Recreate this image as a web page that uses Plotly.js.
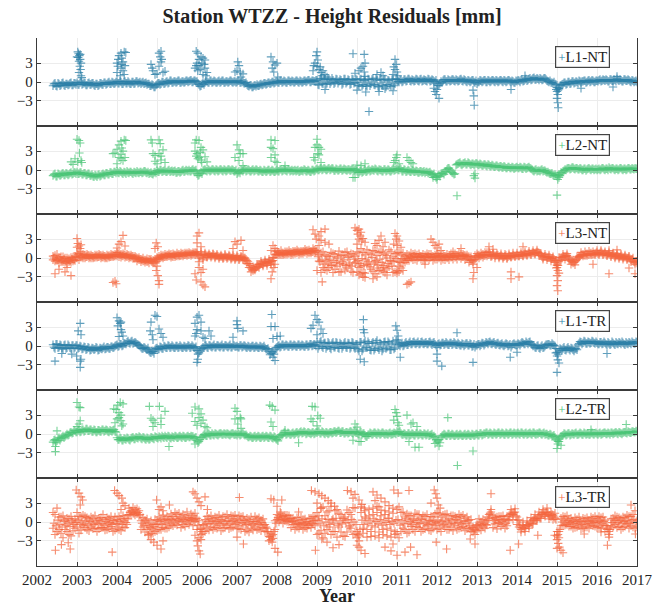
<!DOCTYPE html>
<html>
<head>
<meta charset="utf-8">
<script src="https://cdn.plot.ly/plotly-3.0.1.min.js"></script>
<style>html,body{margin:0;padding:0;background:#fff;}#chart{width:664px;height:606px;}</style>
</head>
<body>
<div id="chart"></div>
<script>
// ---- Data (mm). Dense band: interleaved regular sampling grids; plus explicit scattered points ----
const bandStart = 2002.4;     // grid A: 2002.40, 2002.45, ... 2017.00
const bandStartB = 2002.425;  // grid B: 2002.425, 2002.475, ... 2016.975
const bandStep = 0.05;
const seriesNames = ['L1-NT', 'L2-NT', 'L3-NT', 'L1-TR', 'L2-TR', 'L3-TR'];
const yearTicks = [2002,2003,2004,2005,2006,2007,2008,2009,2010,2011,2012,2013,2014,2015,2016,2017];
const yTicks = [-3, 0, 3];

const l1ntBand = [
-0.6,-0.2,-0.7,-0.3,-0.5,-0.1,-0.6,-0.3,-0.4,-0.1,-0.5,-0.2,
-0.1,-0.4,0.0,-0.3,-0.2,-0.5,-0.1,-0.4,-0.2,-0.6,-0.3,-0.5,-0.2,-0.4,-0.1,-0.3,0.0,-0.3,-0.1,-0.2,
0.1,-0.2,0.0,-0.3,0.1,-0.2,-0.1,-0.3,0.0,-0.2,0.1,-0.1,-0.3,0.0,-0.2,-0.4,-0.3,-0.6,-0.5,-0.8,
-0.4,-0.2,-0.3,0.0,-0.2,0.1,-0.1,0.2,-0.1,0.1,0.0,0.2,-0.1,0.1,0.0,0.2,0.1,0.3,0.0,0.2,
0.1,-0.4,-0.6,-0.2,-0.1,0.1,-0.1,0.2,0.0,0.1,-0.1,0.2,0.0,0.2,-0.1,0.1,0.0,0.2,-0.1,0.1,
0.0,0.2,-0.1,0.0,-0.2,-0.4,-0.7,-0.5,-0.8,-0.5,-0.4,-0.6,-0.3,-0.4,-0.2,-0.3,-0.1,-0.2,0.0,-0.1,
0.1,-0.1,0.2,0.0,0.1,-0.1,0.2,0.0,0.1,0.0,0.2,-0.1,0.1,0.0,0.2,0.1,0.3,0.0,0.2,0.1,
0.3,-0.5,0.6,-0.3,0.4,-0.2,0.5,0.0,0.3,-0.1,0.4,0.1,0.3,-0.2,0.5,0.0,0.3,-0.3,0.4,-0.1,
0.3,-0.6,0.5,-0.4,0.2,-0.7,0.4,-0.3,0.6,-0.5,0.3,-0.8,0.4,-0.6,0.5,-0.4,0.2,-0.7,0.5,-0.3,
0.4,0.0,0.3,0.1,0.4,0.2,0.5,0.1,0.3,0.2,0.4,0.1,0.5,0.2,0.3,0.1,0.4,0.2,0.3,0.0,
-0.2,-0.5,0.1,0.2,0.4,0.1,0.3,0.2,0.4,0.1,0.3,0.2,0.5,0.1,0.3,0.0,0.2,0.1,0.3,-0.1,
-0.3,0.0,0.2,0.1,0.3,0.0,0.2,0.1,0.3,0.0,0.2,0.1,0.3,0.0,0.2,0.1,0.3,0.0,0.1,-0.1,
0.1,0.2,0.3,0.1,0.4,0.2,0.5,0.3,0.6,0.4,0.6,0.3,0.5,0.4,0.6,0.2,0.0,-0.1,-0.2,-0.3,
-0.9,-1.1,-0.5,-0.3,-0.1,-0.3,0.0,-0.2,0.1,-0.1,0.0,0.2,-0.1,0.1,0.2,0.0,0.3,0.1,0.2,0.0,
0.2,0.3,0.1,0.4,0.2,0.3,0.1,0.4,0.2,0.3,0.5,0.2,0.3,0.1,0.4,0.2,0.3,0.0,0.2,0.1,
0.0];
const l1ntBandB = [
-0.3,-0.6,-0.2,-0.6,-0.2,-0.5,-0.3,-0.5,-0.2,-0.5,-0.2,-0.4,
-0.4,-0.1,-0.4,-0.1,-0.5,-0.2,-0.4,-0.2,-0.5,-0.3,-0.6,-0.2,-0.4,-0.1,-0.4,-0.1,-0.3,0.0,-0.3,0.0,
-0.2,0.1,-0.3,0.0,-0.2,0.1,-0.3,0.0,-0.3,0.1,-0.2,0.0,-0.1,-0.3,-0.1,-0.3,-0.6,-0.4,-0.8,-0.5,
-0.2,-0.4,0.0,-0.3,0.0,-0.2,0.2,-0.1,0.1,-0.1,0.2,-0.1,0.1,-0.1,0.2,0.0,0.2,0.0,0.2,0.0,
-0.2,-0.7,-0.3,-0.4,0.1,-0.1,0.2,-0.1,0.2,-0.1,0.1,-0.1,0.2,-0.1,0.1,-0.1,0.2,0.0,0.1,-0.1,
0.2,-0.1,0.1,-0.2,-0.1,-0.6,-0.5,-0.8,-0.6,-0.7,-0.6,-0.4,-0.5,-0.2,-0.4,-0.1,-0.3,0.0,-0.2,0.1,
-0.1,0.2,-0.1,0.2,-0.1,0.2,0.0,0.2,-0.1,0.2,0.0,0.2,-0.1,0.2,0.0,0.3,0.0,0.2,0.1,0.3,
-0.4,0.5,-0.2,0.6,-0.4,0.4,-0.3,0.6,-0.3,0.5,-0.2,0.4,-0.4,0.5,-0.2,0.4,-0.4,0.5,-0.2,0.5,
-0.5,0.4,-0.7,0.3,-0.5,0.5,-0.6,0.4,-0.4,0.6,-0.7,0.3,-0.5,0.4,-0.8,0.3,-0.5,0.4,-0.6,0.5,
0.1,0.4,0.0,0.4,0.1,0.5,0.2,0.4,0.1,0.5,0.2,0.4,0.1,0.4,0.2,0.5,0.1,0.4,0.1,0.3,
-0.6,-0.2,-0.1,0.4,0.1,0.4,0.1,0.4,0.2,0.4,0.1,0.4,0.2,0.4,0.1,0.3,0.0,0.3,0.0,0.2,
0.0,0.3,0.0,0.3,0.0,0.3,0.0,0.3,0.1,0.3,0.0,0.3,0.1,0.3,0.0,0.3,0.1,0.2,-0.1,0.2,
0.3,0.0,0.4,0.2,0.5,0.3,0.6,0.4,0.7,0.4,0.5,0.6,0.3,0.6,0.4,0.1,0.2,-0.1,0.0,-0.4,
-1.3,-0.6,-0.4,-0.1,-0.4,0.0,-0.3,0.1,-0.2,0.1,-0.2,0.1,0.1,0.2,-0.1,0.2,0.0,0.3,0.0,0.2,
0.1,0.4,0.2,0.3,0.4,0.1,0.4,0.2,0.4,0.1,0.3,0.4,0.1,0.4,0.2,0.4,0.1,0.3,0.0,0.2];

const l2ntBand = [
-0.9,-0.6,-1.0,-0.7,-0.8,-0.5,-0.8,-0.6,-0.7,-0.4,-0.6,-0.4,
-0.3,-0.6,-0.4,-0.7,-0.5,-0.8,-0.6,-0.9,-1.0,-0.8,-1.1,-0.7,-0.9,-0.6,-0.8,-0.5,-0.7,-0.4,-0.6,-0.3,
-0.2,-0.5,-0.3,-0.6,-0.4,-0.2,-0.5,-0.3,-0.6,-0.4,-0.2,-0.5,-0.3,-0.4,-0.2,-0.5,-0.6,-0.4,-0.7,-0.3,
-0.1,-0.3,0.0,-0.2,-0.1,-0.3,0.0,-0.2,-0.3,-0.1,-0.4,-0.2,-0.3,0.0,-0.2,-0.1,0.0,-0.2,0.1,-0.1,
-0.6,-0.8,-0.3,-0.1,0.1,-0.2,0.0,-0.1,0.1,-0.2,0.0,-0.1,0.1,-0.2,0.0,-0.1,0.1,-0.1,0.0,-0.2,
-0.6,-0.2,0.0,-0.2,0.1,-0.1,0.0,-0.2,0.1,-0.1,0.0,-0.2,-0.1,-0.3,-0.1,-0.2,0.0,-0.2,-0.1,-0.3,
0.0,-0.2,0.1,-0.1,0.0,-0.2,0.1,-0.1,-0.2,0.0,-0.1,-0.3,-0.1,-0.2,0.0,-0.2,-0.1,-0.3,0.0,-0.1,
0.2,0.0,0.3,0.1,0.2,0.0,0.3,0.1,0.2,-0.1,0.1,0.0,0.2,0.0,0.1,-0.1,0.1,0.0,0.2,0.0,
-0.2,-0.4,-0.1,-0.3,0.0,-0.2,0.1,-0.1,0.0,0.2,-0.1,0.1,0.0,-0.2,0.1,-0.1,0.0,-0.2,0.2,0.0,
0.2,0.0,0.1,-0.2,0.0,-0.2,-0.1,-0.3,-0.1,-0.3,-0.2,-0.4,-0.2,-0.3,-0.5,-0.3,-0.4,-0.6,-0.8,-1.0,
-1.1,-0.8,-0.6,-0.5,-0.3,0.1,0.3,-0.2,-0.5,-0.6,0.9,1.1,0.9,1.0,1.2,0.9,1.1,0.8,1.0,0.9,
1.0,0.8,0.9,0.7,0.9,0.6,0.8,0.6,0.7,0.5,0.7,0.4,0.6,0.4,0.5,0.3,0.5,0.3,0.4,0.3,
0.5,0.3,0.4,0.2,0.4,0.3,0.5,0.2,-0.1,0.0,-0.2,-0.1,0.0,-0.2,-0.1,-0.4,-0.5,-0.6,-0.8,-0.7,
-1.0,-0.7,-0.4,-0.2,0.1,0.2,0.3,0.2,0.4,0.1,0.3,0.1,0.2,0.0,0.2,0.1,0.3,0.0,0.2,0.1,
0.0,0.2,0.1,0.3,0.0,0.2,0.4,0.1,0.3,0.0,0.2,0.1,0.3,0.0,0.2,0.1,0.3,0.1,0.2,0.3,
0.2];
const l2ntBandB = [
-0.7,-1.0,-0.6,-0.9,-0.6,-0.8,-0.5,-0.8,-0.5,-0.7,-0.4,-0.6,
-0.6,-0.4,-0.7,-0.5,-0.8,-0.6,-0.9,-0.7,-1.1,-0.9,-0.8,-1.0,-0.7,-0.8,-0.5,-0.7,-0.4,-0.6,-0.3,-0.5,
-0.4,-0.2,-0.5,-0.3,-0.6,-0.4,-0.3,-0.5,-0.3,-0.5,-0.4,-0.3,-0.5,-0.2,-0.4,-0.3,-0.5,-0.6,-0.4,-0.5,
-0.3,0.0,-0.3,-0.1,-0.3,-0.1,-0.3,-0.1,-0.2,-0.4,-0.2,-0.4,-0.1,-0.3,0.0,-0.2,-0.2,0.0,-0.2,0.0,
-0.9,-0.5,-0.6,0.0,-0.1,0.1,-0.2,0.1,-0.1,0.1,-0.2,0.1,-0.1,0.1,-0.2,0.1,-0.1,0.1,-0.2,0.0,
-0.4,-0.5,-0.1,0.1,-0.2,0.1,-0.2,0.0,-0.2,0.1,-0.2,0.0,-0.3,0.0,-0.3,0.0,-0.3,0.0,-0.3,-0.1,
-0.2,0.1,-0.2,0.1,-0.1,0.1,-0.2,0.0,-0.1,-0.2,0.0,-0.2,-0.1,0.1,-0.2,0.0,-0.3,0.0,-0.2,0.1,
0.0,0.2,0.0,0.3,0.0,0.2,0.0,0.3,-0.1,0.2,-0.1,0.2,-0.1,0.2,0.0,0.1,-0.1,0.2,-0.1,0.1,
-0.4,-0.2,-0.4,-0.1,-0.3,0.0,-0.2,0.1,-0.1,0.1,-0.2,0.0,-0.2,0.1,-0.2,0.1,-0.2,0.0,-0.1,0.1,
0.0,0.3,-0.2,0.1,-0.3,0.0,-0.3,0.0,-0.3,-0.1,-0.4,-0.2,-0.4,-0.2,-0.3,-0.5,-0.3,-0.7,-0.6,-1.2,
-0.9,-1.0,-0.5,-0.7,-0.2,0.3,0.0,-0.4,-0.7,0.8,1.0,1.2,0.8,1.1,0.9,1.2,0.9,1.0,0.8,1.1,
0.8,1.0,0.7,0.9,0.7,0.9,0.6,0.8,0.5,0.7,0.5,0.6,0.4,0.6,0.3,0.5,0.3,0.5,0.2,0.4,
0.3,0.5,0.2,0.5,0.2,0.4,0.3,0.1,-0.2,0.1,-0.1,-0.2,0.1,-0.1,-0.3,-0.3,-0.6,-0.5,-0.9,-0.9,
-0.8,-0.9,-0.5,-0.1,0.0,0.3,0.1,0.4,0.2,0.3,0.1,0.3,0.0,0.2,-0.1,0.2,0.1,0.2,0.0,0.2,
0.1,0.0,0.3,0.1,0.2,0.0,0.2,0.3,0.1,0.2,0.0,0.3,0.1,0.2,0.0,0.3,0.1,0.3,0.1,0.2];

const l3ntBand = [
0.3,-0.5,0.6,-0.8,0.2,-0.6,0.0,-0.9,-0.1,-0.7,0.1,-0.4,
0.8,-0.3,1.0,0.0,0.5,0.2,0.4,0.0,0.3,0.1,0.5,0.2,0.4,0.1,0.3,0.0,0.4,0.2,0.5,0.3,
0.9,0.2,0.6,0.3,0.5,0.2,0.4,0.1,0.3,-0.1,0.0,-0.3,-0.2,-0.5,-0.3,-0.6,-0.2,-0.5,-0.4,-0.8,
-0.2,0.3,0.1,0.4,0.2,0.5,0.3,0.6,0.2,0.5,0.3,0.6,0.4,0.7,0.5,0.8,0.5,0.7,0.6,0.9,
0.7,0.0,1.0,-0.3,0.6,0.2,0.5,0.3,0.6,0.2,0.4,0.1,0.3,0.0,0.4,0.1,0.3,0.0,0.2,-0.1,
0.2,-0.2,0.3,-0.1,0.0,-0.4,-0.9,-1.6,-2.0,-1.7,-1.4,-1.0,-0.8,-1.1,-0.6,-0.9,-0.5,-0.8,-0.4,0.5,
0.6,0.9,0.5,0.8,0.6,1.0,0.7,0.9,0.6,1.1,0.8,1.0,0.7,1.1,0.9,1.2,0.8,1.1,1.0,1.3,
1.2,-0.5,0.8,-1.5,0.5,-2.0,0.2,-1.2,0.7,-1.8,0.0,-2.2,0.4,-1.0,0.9,-1.6,0.3,-2.1,0.6,-0.8,
1.0,-1.5,1.5,-2.3,0.5,-1.0,0.8,-1.8,1.2,-0.6,0.4,-2.0,1.0,-1.2,0.6,-1.7,1.3,-0.5,0.2,-2.2,
0.8,-1.3,0.5,-0.8,0.3,-0.4,0.4,0.0,0.6,-0.2,0.5,0.1,0.3,-0.3,0.4,0.0,0.6,0.1,0.3,-0.2,
0.7,0.0,0.4,-0.2,0.3,0.0,0.4,0.1,0.5,0.1,0.4,0.2,0.6,0.2,0.4,0.0,0.2,-0.4,-0.6,-0.2,
0.2,0.5,0.3,0.6,0.4,0.9,0.5,0.4,0.6,0.3,0.5,0.2,0.4,0.1,0.3,0.0,0.4,0.2,0.5,0.3,
0.5,0.3,0.6,0.4,0.7,0.5,0.8,0.6,0.9,0.7,1.0,0.8,0.4,0.0,0.3,0.1,0.2,-0.1,0.0,-0.4,
-1.0,-0.6,0.0,0.3,0.2,0.4,0.0,-0.5,-0.8,-0.6,-0.2,0.3,0.5,0.6,0.4,0.7,0.5,0.8,0.6,0.7,
0.9,0.5,1.0,0.6,0.8,0.4,0.7,0.3,0.6,0.2,0.5,0.1,0.4,0.0,0.3,-0.1,0.2,-0.3,-0.5,-0.7,
-0.8];
const l3ntBandB = [
0.0,-0.2,-0.3,-0.1,-0.4,-0.2,-0.5,-0.3,-0.4,-0.2,-0.3,0.2,
0.5,0.2,0.4,0.3,0.2,0.4,0.2,0.3,0.1,0.3,0.2,0.4,0.2,0.3,0.1,0.3,0.2,0.4,0.3,0.5,
0.6,0.5,0.4,0.5,0.3,0.4,0.2,0.3,0.0,0.1,-0.1,-0.2,-0.3,-0.4,-0.4,-0.5,-0.3,-0.6,-0.6,-0.5,
-0.1,0.0,0.2,0.2,0.3,0.4,0.4,0.3,0.5,0.4,0.5,0.4,0.6,0.5,0.6,0.6,0.7,0.6,0.7,0.8,
0.5,0.3,0.5,0.4,0.5,0.4,0.4,0.3,0.4,0.3,0.3,0.2,0.2,0.1,0.2,0.1,0.2,0.0,0.1,0.0,
0.1,0.0,0.1,0.0,-0.2,-0.6,-1.2,-1.8,-1.8,-1.6,-1.3,-1.1,-0.9,-0.8,-0.7,-0.7,-0.6,-0.5,0.0,0.6,
0.8,0.7,0.8,0.7,0.8,0.8,0.9,0.8,0.9,0.9,1.0,0.9,0.9,1.0,1.1,1.0,1.0,1.0,1.2,1.1,
0.2,-0.6,-0.3,-1.0,-0.5,-0.8,-0.2,-1.1,-0.4,-0.7,0.2,-0.9,-0.6,-0.3,-1.2,0.1,-0.8,-1.3,-0.2,-0.6,
-0.4,-0.9,-0.1,-1.2,-0.3,-0.6,-1.4,0.1,-0.8,-0.4,-1.1,-0.2,-0.7,-1.5,0.0,-0.9,-0.4,-1.3,-0.6,-0.1,
-0.5,-0.7,-0.1,-0.3,0.0,-0.1,0.2,0.1,0.3,0.2,0.1,0.3,0.2,0.1,0.2,0.3,0.1,0.2,0.1,0.3,
0.3,0.2,0.1,0.3,0.2,0.1,0.3,0.2,0.3,0.2,0.4,0.3,0.3,0.4,0.2,0.2,-0.2,-0.3,-0.3,0.1,
0.4,0.3,0.5,0.4,0.6,0.5,0.6,0.3,0.5,0.4,0.4,0.3,0.3,0.2,0.4,0.2,0.3,0.3,0.4,0.4,
0.4,0.5,0.5,0.6,0.6,0.7,0.7,0.8,0.8,0.9,0.9,0.6,0.2,0.2,0.2,0.1,0.1,-0.1,-0.2,-0.4,
-1.2,-0.3,0.1,0.3,0.3,0.2,-0.2,-0.6,-0.7,-0.4,0.0,0.3,0.5,0.5,0.6,0.6,0.7,0.6,0.7,0.8,
0.7,0.8,0.8,0.7,0.6,0.6,0.5,0.5,0.4,0.3,0.3,0.2,0.2,0.1,0.1,0.0,-0.1,-0.2,-0.6,-0.5];
const l3ntBandC = [
-0.3,0.4,-0.4,0.1,-0.6,0.2,-0.7,0.0,-0.6,0.1,-0.5,0.3,
0.0,0.7,0.1,0.6,0.0,0.6,0.0,0.5,0.0,0.5,0.1,0.6,0.0,0.5,0.0,0.5,0.1,0.6,0.2,0.6,
0.3,0.8,0.1,0.7,0.1,0.6,0.0,0.5,-0.1,0.3,-0.5,0.1,-0.6,0.0,-0.7,-0.1,-0.8,-0.2,-0.8,-0.2,
0.1,-0.2,0.5,0.0,0.6,0.2,0.7,0.1,0.7,0.2,0.8,0.3,0.8,0.3,0.8,0.4,0.9,0.4,0.9,0.5,
1.0,-0.6,0.6,0.0,0.8,0.1,0.7,0.1,0.7,0.0,0.6,-0.1,0.5,-0.1,0.6,-0.1,0.5,-0.2,0.4,-0.3,
0.4,-0.3,0.1,-0.3,-0.4,-0.9,-1.5,-2.2,-1.4,-1.9,-1.0,-1.5,-0.5,-1.3,-0.3,-1.2,-0.2,-1.1,0.1,1.0,
1.1,0.5,1.2,0.5,1.0,0.6,1.2,0.5,1.1,0.7,1.3,0.6,1.1,0.7,1.4,0.7,1.3,0.8,1.5,0.9,
-2.0,0.5,-2.3,1.0,-1.8,0.3,-1.5,0.9,-2.3,0.6,-1.3,1.1,-2.2,0.5,-1.9,1.0,-1.1,0.7,-2.3,0.3,
-2.2,0.8,-1.3,0.9,-2.4,1.3,-1.0,0.6,-2.1,1.1,-1.6,0.9,-1.9,0.8,-2.3,0.4,-1.4,1.0,-2.3,0.7,
-2.0,0.9,-1.6,0.8,-0.7,0.6,-0.4,0.8,-0.3,0.7,-0.4,0.7,-0.2,0.6,-0.4,0.7,-0.3,0.6,-0.4,0.5,
-0.2,0.7,-0.4,0.6,-0.3,0.6,-0.3,0.7,-0.2,0.7,-0.2,0.8,-0.1,0.6,-0.3,0.5,-0.7,0.2,-1.0,0.4,
0.7,0.0,0.8,0.1,0.9,0.3,1.0,0.2,0.8,0.0,0.7,0.0,0.7,-0.1,0.6,-0.1,0.7,0.1,0.8,0.2,
0.8,0.3,0.9,0.3,1.0,0.4,1.1,0.5,1.2,0.6,1.3,0.4,0.7,-0.2,0.6,-0.3,0.5,-0.5,0.2,-0.7,
-1.5,0.1,-0.4,0.6,-0.2,0.7,-0.4,-1.0,-0.3,-1.1,0.2,0.1,0.9,0.3,1.0,0.4,1.1,0.5,1.0,0.5,
1.2,0.7,1.2,0.5,1.0,0.4,0.9,0.2,0.8,0.0,0.7,-0.1,0.6,-0.2,0.5,-0.3,0.3,-0.6,0.0,-1.0,
-0.5];

const l1trBand = [
0.2,-0.4,0.3,-0.2,0.1,-0.5,0.2,-0.3,0.0,-0.4,0.1,-0.2,
0.1,-0.3,-0.1,-0.4,-0.2,-0.5,-0.3,-0.6,-0.4,-0.5,-0.3,-0.6,-0.4,-0.3,-0.5,-0.2,-0.4,-0.1,-0.3,0.0,
0.2,0.0,0.3,0.1,0.4,0.6,0.5,0.7,0.4,0.6,0.3,0.1,-0.2,-0.4,-0.3,-0.6,-0.8,-1.1,-0.9,-0.6,
-0.3,-0.5,-0.2,-0.4,-0.1,-0.3,0.0,-0.2,-0.1,-0.3,0.0,-0.2,-0.1,-0.3,-0.1,-0.2,0.0,-0.2,-0.1,-0.3,
-0.7,-1.1,-0.5,-0.2,0.0,-0.2,0.1,-0.1,0.0,-0.2,0.1,-0.1,0.0,-0.2,0.1,-0.1,0.0,-0.2,0.1,-0.1,
0.0,-0.2,0.1,-0.1,0.0,-0.3,-0.1,-0.2,0.0,-0.2,-0.1,-0.3,-0.1,-0.2,-0.3,-0.5,-0.8,-1.2,-1.0,-0.6,
-0.2,0.1,-0.1,0.2,0.0,0.1,-0.1,0.2,0.0,0.1,-0.1,0.2,0.0,0.1,-0.1,0.2,0.0,0.3,0.1,0.2,
0.6,0.0,0.8,-0.3,0.5,-0.1,0.4,-0.5,0.6,-0.2,0.5,-0.4,0.3,-0.1,0.6,-0.3,0.4,-0.2,0.5,-0.4,
0.3,-0.8,0.6,-0.5,0.8,-0.3,0.4,-0.7,0.6,-0.4,0.9,-0.6,0.3,-0.5,0.7,-0.2,0.5,-0.6,0.8,-0.3,
1.0,0.2,0.3,0.0,0.4,0.2,0.5,0.3,0.6,0.4,0.5,0.3,0.6,0.4,0.5,0.3,0.6,0.4,0.5,0.3,
-0.2,0.4,0.2,0.5,0.3,0.4,0.2,0.5,0.3,0.4,0.2,0.3,0.1,0.3,0.2,0.4,0.1,0.3,0.0,-0.2,
0.1,0.3,0.2,0.4,0.3,0.5,0.6,0.4,0.5,0.3,0.4,0.2,0.3,0.1,0.2,0.3,0.1,-0.2,0.3,0.2,
0.2,0.3,0.4,0.5,0.3,0.5,0.6,0.3,0.0,-0.2,0.0,-0.3,-0.1,-0.3,0.0,0.2,0.3,0.1,0.2,0.0,
-1.0,-0.8,-0.5,-0.4,-0.6,-0.4,-0.5,-0.3,-0.6,-0.5,-0.6,0.4,0.6,0.5,0.7,0.4,0.6,0.5,0.7,0.4,
0.5,0.3,0.6,0.4,0.5,0.2,0.4,0.3,0.5,0.2,0.4,0.6,0.3,0.5,0.2,0.4,0.6,0.3,0.5,0.4,
0.6];
const l1trBandB = [
-0.2,0.3,-0.3,0.2,-0.3,0.1,-0.4,0.2,-0.3,0.1,-0.4,0.1,
-0.4,0.0,-0.5,-0.1,-0.6,-0.2,-0.7,-0.3,-0.6,-0.2,-0.7,-0.3,-0.5,-0.1,-0.4,-0.2,-0.4,-0.1,-0.2,0.1,
-0.1,0.3,0.0,0.4,0.3,0.8,0.4,0.8,0.5,0.5,0.2,0.0,-0.4,-0.2,-0.5,-0.3,-1.0,-0.8,-1.2,-0.4,
-0.5,-0.1,-0.4,0.0,-0.3,0.1,-0.3,0.1,-0.3,0.0,-0.3,0.1,-0.3,0.0,-0.3,0.1,-0.3,0.1,-0.3,-0.1,
-1.3,-0.8,-0.4,-0.3,0.1,-0.3,0.1,-0.2,0.2,-0.2,0.1,-0.2,0.2,-0.2,0.1,-0.2,0.2,-0.2,0.1,-0.1,
-0.2,0.1,-0.2,0.1,-0.2,0.0,-0.3,0.0,-0.3,0.0,-0.3,0.0,-0.3,0.0,-0.5,-0.4,-1.4,-0.9,-1.3,-0.3,
0.0,-0.2,0.2,-0.1,0.2,-0.1,0.2,-0.1,0.2,-0.1,0.2,-0.1,0.2,-0.1,0.2,-0.1,0.3,0.0,0.3,0.0,
-0.4,0.6,-0.1,0.5,-0.4,0.6,-0.3,0.4,-0.2,0.6,-0.3,0.5,-0.4,0.4,-0.2,0.5,-0.4,0.6,-0.2,0.3,
-0.5,0.6,-0.8,0.5,-0.2,0.7,-0.6,0.4,-0.7,0.6,-0.3,0.5,-0.8,0.6,-0.4,0.7,-0.6,0.3,-0.5,0.8,
0.5,0.0,0.5,0.1,0.6,0.2,0.7,0.3,0.7,0.3,0.7,0.3,0.7,0.3,0.6,0.3,0.7,0.2,0.6,0.1,
0.3,0.1,0.5,0.2,0.6,0.2,0.5,0.2,0.6,0.2,0.5,0.1,0.4,0.0,0.4,0.1,0.4,-0.1,0.3,0.1,
0.3,0.0,0.5,0.1,0.6,0.3,0.7,0.3,0.6,0.2,0.5,0.1,0.4,0.0,0.4,0.0,0.3,0.1,0.4,0.1,
0.4,0.1,0.6,0.3,0.7,0.3,0.7,0.2,0.1,-0.3,0.1,-0.4,0.1,-0.2,0.2,0.3,0.1,0.4,0.1,-0.4,
-1.3,-0.4,-0.7,-0.2,-0.7,-0.2,-0.7,-0.4,-0.8,-0.4,0.2,0.7,0.3,0.8,0.4,0.7,0.4,0.8,0.5,0.7,
0.3,0.6,0.3,0.7,0.3,0.6,0.2,0.7,0.3,0.6,0.3,0.5,0.7,0.3,0.6,0.3,0.5,0.7,0.4,0.7];

const l2trBand = [
-1.3,-0.9,-1.1,-0.6,-0.7,-0.3,-0.4,0.0,-0.1,0.3,0.2,0.5,
0.3,0.6,0.4,0.7,0.5,0.8,0.5,0.7,0.4,0.6,0.3,0.6,0.4,0.7,0.5,0.6,0.3,0.5,0.6,0.4,
-0.6,-0.9,-0.7,-1.0,-0.8,-0.6,-0.9,-0.7,-0.5,-0.8,-0.6,-0.4,-0.7,-0.5,-0.8,-0.6,-0.9,-0.5,-0.7,-0.4,
-0.6,-0.4,-0.7,-0.5,-0.3,-0.6,-0.4,-0.7,-0.5,-0.3,-0.6,-0.4,-0.5,-0.3,-0.6,-0.4,-0.5,-0.3,-0.4,-0.6,
-1.0,-1.2,-0.6,-0.3,-0.1,-0.3,0.0,-0.2,-0.1,0.1,-0.1,0.0,0.1,-0.1,0.0,0.1,-0.1,0.0,0.1,-0.1,
-0.2,0.0,-0.1,0.1,-0.2,-0.3,-0.5,-0.4,-0.6,-0.3,-0.5,-0.4,-0.6,-0.3,-0.5,-0.4,-0.6,-0.4,-0.7,-0.5,
-0.9,-0.5,-0.1,0.0,0.2,0.0,0.1,-0.1,0.2,0.0,0.3,0.1,0.4,0.2,0.3,0.1,0.2,0.0,0.3,0.1,
0.2,0.4,0.1,0.3,0.0,0.2,0.1,0.3,0.2,0.4,0.3,0.5,0.2,0.4,0.1,0.3,0.2,0.4,0.1,0.3,
0.2,0.0,0.3,0.1,-0.2,-0.4,-0.1,0.1,0.0,0.2,-0.1,0.1,0.0,0.2,-0.1,0.0,0.1,-0.1,0.0,0.1,
0.4,0.2,0.1,-0.1,0.0,-0.2,0.1,-0.1,0.0,-0.2,0.1,-0.1,0.0,-0.2,0.0,-0.1,-0.3,-0.1,-0.4,-0.6,
-1.3,-0.9,-0.5,-0.2,-0.1,-0.3,0.0,-0.2,-0.1,-0.3,0.0,-0.2,-0.1,-0.3,0.0,-0.2,-0.1,-0.3,-0.1,-0.2,
0.0,-0.2,0.1,-0.1,0.0,0.2,0.0,0.1,-0.1,0.1,0.0,0.2,0.0,0.1,-0.1,0.1,0.0,0.2,0.0,0.1,
0.1,0.0,0.2,0.0,0.1,-0.1,0.1,0.0,0.2,0.0,0.1,0.2,0.0,0.1,-0.1,0.0,-0.2,-0.1,-0.3,-0.5,
-1.0,-0.8,-0.4,-0.2,0.0,-0.1,0.1,-0.1,0.0,0.1,-0.1,0.0,0.1,-0.1,0.1,0.0,-0.1,0.1,0.0,0.1,
0.0,0.1,-0.1,0.1,0.2,0.0,0.1,0.2,0.0,0.2,0.1,0.3,0.1,0.2,0.3,0.1,0.3,0.2,0.4,0.3,
0.4];
const l2trBandB = [
-1.0,-1.4,-0.8,-1.0,-0.5,-0.6,-0.2,-0.2,0.2,0.1,0.6,0.3,
0.6,0.3,0.7,0.4,0.8,0.5,0.7,0.4,0.7,0.3,0.6,0.4,0.7,0.4,0.7,0.4,0.6,0.4,0.7,0.3,
-0.9,-0.6,-1.0,-0.7,-0.9,-0.7,-1.0,-0.6,-0.8,-0.5,-0.7,-0.5,-0.8,-0.6,-0.9,-0.7,-0.8,-0.6,-0.8,-0.5,
-0.7,-0.5,-0.3,-0.6,-0.5,-0.3,-0.6,-0.4,-0.6,-0.4,-0.6,-0.3,-0.6,-0.4,-0.6,-0.3,-0.5,-0.4,-0.7,-0.5,
-1.4,-0.9,-0.5,-0.1,-0.3,0.1,-0.2,0.1,-0.2,0.0,-0.2,0.1,-0.1,0.1,-0.1,0.0,-0.2,0.1,-0.1,0.0,
0.1,-0.2,0.1,-0.1,-0.1,-0.5,-0.3,-0.6,-0.4,-0.6,-0.3,-0.6,-0.4,-0.6,-0.3,-0.6,-0.3,-0.6,-0.4,-0.8,
-1.1,-0.3,-0.2,0.2,-0.1,0.2,-0.1,0.1,-0.1,0.2,0.0,0.3,0.1,0.4,0.0,0.3,0.1,0.2,0.0,0.3,
0.4,0.1,0.4,0.1,0.3,0.0,0.3,0.1,0.4,0.2,0.5,0.2,0.4,0.1,0.3,0.1,0.4,0.2,0.4,0.2,
0.0,0.3,-0.1,0.1,-0.4,-0.1,0.2,-0.1,0.2,0.0,0.2,-0.1,0.2,0.0,0.1,-0.1,0.2,0.0,0.2,0.0,
0.2,0.4,-0.1,0.1,-0.2,0.1,-0.2,0.1,-0.2,0.1,-0.2,0.1,-0.2,0.1,-0.2,0.1,-0.2,0.0,-0.3,-0.9,
-1.1,-1.4,-0.3,0.0,-0.3,0.0,-0.3,0.0,-0.3,-0.1,-0.3,0.0,-0.3,-0.1,-0.3,0.0,-0.3,0.0,-0.3,0.0,
-0.2,0.1,-0.2,0.1,0.2,-0.1,0.2,-0.1,0.2,-0.1,0.2,-0.1,0.2,-0.1,0.2,-0.1,0.2,-0.1,0.2,-0.1,
0.2,-0.1,0.2,-0.1,0.2,0.0,0.2,-0.1,0.2,-0.1,0.0,0.2,-0.1,0.2,0.0,-0.2,0.0,-0.4,-0.2,-0.8,
-1.2,-0.6,-0.3,0.1,-0.2,0.1,-0.2,0.1,-0.1,0.2,-0.1,0.2,-0.1,0.2,-0.1,0.1,-0.1,0.2,-0.1,0.2,
-0.1,0.2,0.0,0.2,0.0,0.2,-0.1,0.2,0.1,0.3,0.0,0.2,0.0,0.3,0.2,0.4,0.2,0.4,0.3,0.5];

const l3trBand = [
1.5,-2.0,2.2,-1.2,0.8,-2.5,0.3,-1.5,0.5,-2.2,0.0,-1.0,
1.5,-1.8,0.8,-0.6,0.9,-1.2,0.5,-0.8,0.6,-1.0,0.3,-1.1,0.7,-0.9,0.4,-1.2,0.5,-0.7,0.2,-1.3,
0.4,-1.2,0.5,-0.8,0.6,-0.4,1.2,1.8,1.4,2.0,1.3,1.8,0.2,-0.8,0.3,-1.2,-0.2,-1.8,-0.4,-1.5,
0.3,-1.2,0.5,-0.9,0.4,-1.0,0.6,-0.5,0.9,-0.3,1.2,0.0,0.8,-0.4,1.0,-0.2,0.7,0.2,1.0,0.1,
0.6,-2.5,-1.0,-1.8,0.4,-1.0,0.6,-0.8,0.5,-0.9,0.7,-0.6,0.4,-1.0,0.8,-0.5,0.6,-0.9,0.9,-0.4,
0.5,-1.0,0.8,-0.6,0.2,-1.3,0.4,-1.0,0.1,-0.8,0.5,-1.1,0.3,-0.9,-0.4,-1.6,-2.3,-2.8,-2.0,-1.2,
0.4,1.0,0.3,0.9,0.2,1.1,0.0,0.6,-0.4,0.3,-0.8,0.2,-0.6,0.4,-0.9,0.1,-0.5,0.6,-0.3,0.8,
1.5,-1.8,2.2,-2.5,1.0,-1.2,1.8,-2.0,0.5,-1.5,2.0,-0.8,1.2,-2.2,0.8,-1.6,1.5,-1.0,2.3,-1.8,
-2.5,-3.0,1.5,-1.8,0.8,-1.2,2.0,-2.3,1.2,-0.8,2.5,-1.6,1.0,-2.0,1.8,-1.0,0.6,-2.4,1.4,-1.5,
2.0,-2.5,1.5,-1.0,0.8,-1.8,1.0,-0.7,0.5,-1.5,1.2,-0.9,0.6,-1.2,0.9,-0.6,0.3,-1.4,0.8,-0.5,
1.5,-1.0,0.8,-0.6,1.2,-1.2,0.5,-0.8,1.0,-0.5,0.7,-1.0,0.9,-0.7,0.6,-1.1,0.3,-1.5,-0.8,-2.0,
-0.4,-1.0,0.0,-0.8,0.2,-0.5,1.2,1.6,0.6,-0.3,0.8,-0.2,0.9,-0.4,0.5,-0.6,1.0,1.4,1.2,1.6,
0.8,-0.8,-1.2,-0.6,-1.0,-0.4,-0.6,0.0,0.3,0.6,0.5,1.0,1.2,1.5,1.3,1.6,1.0,0.8,1.1,0.6,
-1.5,-2.5,0.6,-0.5,0.8,-0.4,0.5,-0.7,0.2,-0.9,0.4,-0.6,0.1,-1.0,0.5,-0.8,0.3,-0.5,0.6,-0.7,
0.5,-0.8,0.7,-0.5,0.3,-1.2,-1.5,-0.6,0.6,-0.4,0.8,-0.7,0.5,-0.9,0.7,-0.3,0.9,-0.6,1.2,-1.0,
-0.8];
const l3trBandB = [
-0.2,-0.6,0.3,-0.4,-0.8,0.1,-0.5,-0.2,-0.7,0.2,-0.4,-0.1,
0.3,-0.4,0.0,-0.3,0.2,-0.5,0.1,-0.2,-0.4,0.0,-0.3,0.2,-0.2,-0.5,0.1,-0.3,-0.1,-0.4,0.2,-0.2,
-0.3,0.1,-0.4,0.2,-0.1,0.5,1.5,1.7,1.4,1.6,1.5,1.2,-0.2,-0.5,0.0,-0.6,-0.9,-1.0,-0.7,-0.4,
-0.3,0.1,-0.4,0.2,-0.2,0.3,0.0,0.4,0.2,0.5,0.3,0.6,0.1,0.4,0.3,0.5,0.2,0.6,0.4,0.5,
-0.5,-1.2,-1.5,-0.6,-0.3,0.1,-0.2,0.2,-0.3,0.1,0.0,-0.2,0.2,-0.3,0.1,0.2,-0.2,0.1,0.3,0.0,
-0.2,0.2,-0.1,0.3,-0.4,-0.3,0.0,-0.5,-0.2,0.1,-0.3,-0.4,-0.1,-0.5,-0.8,-1.5,-2.4,-2.2,-1.5,-0.2,
0.7,0.5,0.8,0.4,0.6,0.3,0.5,0.1,0.0,-0.3,-0.2,-0.4,-0.1,-0.3,-0.2,-0.5,0.0,-0.2,0.2,0.3,
0.2,-0.3,0.5,-0.6,0.0,0.4,-0.4,0.3,-0.2,0.6,-0.5,0.2,-0.3,0.5,-0.1,0.3,-0.6,0.4,0.0,-0.4,
-2.0,-1.2,0.3,-0.4,0.6,-0.2,0.2,-0.6,0.5,0.1,-0.3,0.4,-0.5,0.2,-0.1,0.6,-0.4,0.1,-0.2,0.3,
0.4,-0.5,0.2,-0.3,0.5,-0.2,0.1,-0.4,0.3,-0.1,0.2,-0.3,0.4,-0.2,0.0,-0.4,0.2,-0.3,0.1,-0.1,
0.3,-0.2,0.1,-0.4,0.3,0.0,-0.3,0.2,-0.2,0.4,-0.1,0.2,-0.3,0.1,-0.2,0.2,-0.6,-0.9,-1.3,-0.6,
-0.6,-0.3,-0.5,-0.2,-0.4,0.3,1.4,1.1,0.2,0.4,-0.1,0.3,0.1,0.4,-0.2,0.2,1.2,1.3,1.5,1.0,
0.3,-0.5,-0.9,-1.0,-0.7,-0.5,-0.2,-0.3,0.5,0.3,0.8,0.6,1.3,1.2,1.5,1.4,1.1,1.2,0.8,0.4,
-2.0,-1.2,0.0,0.3,-0.2,0.2,-0.1,0.1,-0.3,0.0,-0.2,0.2,-0.4,0.0,-0.3,0.1,-0.2,0.2,-0.1,0.1,
-0.1,0.2,-0.2,0.1,-0.6,-1.0,-1.2,-0.1,0.2,0.3,-0.1,0.2,-0.2,0.1,0.2,0.0,-0.2,0.3,0.4,0.0];
const l3trBandC = [
-1.0,1.2,-1.5,0.8,-1.8,1.0,-1.2,0.6,-2.0,0.9,-1.4,0.5,
-0.8,0.9,-1.3,1.1,-0.9,0.7,-1.4,0.8,-1.1,1.0,-1.5,0.6,-0.9,1.2,-1.3,0.7,-1.0,0.9,-1.5,0.8,
-1.0,0.9,-1.4,1.0,-0.9,1.1,2.2,1.2,2.3,1.1,2.1,1.0,-1.2,0.7,-1.6,0.5,-2.0,0.2,-1.8,0.4,
-1.4,0.8,-1.2,1.1,-1.0,0.9,-0.8,1.3,-0.6,1.5,-0.5,1.4,-0.9,1.2,-0.7,1.6,-0.4,1.3,-0.6,1.4,
-1.2,0.2,-2.0,-0.4,-1.5,0.9,-1.3,1.0,-1.2,0.8,-1.0,1.1,-1.4,0.9,-0.9,1.2,-1.1,1.0,-0.8,1.1,
-1.1,1.0,-1.2,0.9,-1.5,0.6,-1.6,0.8,-1.3,0.9,-1.2,0.7,-1.4,0.5,-1.5,-1.0,-3.0,-1.8,-2.6,0.2,
1.2,0.0,1.4,-0.2,1.1,0.1,1.0,-0.9,0.6,-1.2,0.7,-1.0,0.8,-1.2,0.5,-1.0,0.6,-0.9,0.9,-0.6,
-2.0,1.0,-1.4,2.4,-1.8,1.6,-0.8,2.5,-1.5,1.8,-2.4,1.4,-1.6,0.6,-2.3,1.9,-0.8,1.2,-2.0,2.2,
-1.5,-2.2,2.4,-1.0,1.8,-2.4,1.0,-1.5,2.2,-2.2,1.5,-2.5,1.9,-1.2,1.2,-2.2,1.6,-1.3,2.2,-2.0,
-1.8,2.4,-1.5,1.6,-1.2,1.3,-1.6,1.0,-1.2,1.4,-0.7,1.2,-1.5,1.0,-1.1,1.2,-1.3,0.9,-1.0,1.3,
-1.2,1.4,-1.5,1.1,-0.8,1.3,-1.2,1.0,-1.4,0.9,-1.2,1.2,-0.9,1.1,-1.4,0.8,-1.0,0.4,-1.6,-1.2,
-1.4,0.5,-1.3,0.4,-1.0,0.8,0.6,2.0,-0.9,0.7,-1.1,0.9,-0.7,1.0,-1.0,0.9,0.3,2.0,0.4,2.1,
-0.4,0.3,-1.6,0.0,-1.5,0.2,-1.0,0.7,-0.3,1.2,0.2,1.6,0.6,2.0,0.9,2.2,0.5,1.6,0.4,1.4,
-2.2,-1.5,-0.6,0.9,-0.5,1.0,-0.7,0.6,-1.0,0.7,-0.8,0.8,-1.1,0.6,-0.8,0.7,-1.0,0.8,-0.6,0.9,
-0.9,0.9,-1.0,0.8,-1.5,-0.6,-2.0,0.5,-0.8,1.0,-0.9,0.7,-1.2,0.8,-0.7,1.1,-1.0,0.9,-0.8,1.8,
0.2];

// scattered points [year, mm]
const l1ntOut = [[2003.02,4.8],[2003.04,4.5],[2003.06,4.2],[2003.03,3.9],[2003.08,3.6],[2003.05,3.3],[2003.1,3.0],[2003.07,2.5],[2003.09,2.0],[2003.05,1.5],[2003.1,1.0],[2003.12,0.7],[2003.0,4.0],[2003.08,4.4],
[2004.0,1.5],[2004.02,2.5],[2004.0,3.0],[2004.03,3.6],[2004.05,4.2],[2004.1,4.6],[2004.18,4.8],[2004.22,4.7],[2004.12,3.8],[2004.15,3.2],[2004.1,2.2],[2004.15,1.8],[2004.18,1.2],[2004.12,2.8],[2004.08,1.0],[2004.2,2.6],
[2004.85,2.8],[2004.9,1.8],[2004.95,1.2],[2005.05,4.6],[2005.1,4.9],[2005.08,4.0],[2005.12,3.6],[2005.1,3.2],[2005.05,2.5],[2005.15,1.5],[2005.2,1.7],[2005.0,1.3],[2004.88,2.2],
[2005.98,4.9],[2006.02,4.6],[2006.0,3.0],[2005.98,2.6],[2006.05,2.6],[2006.1,4.0],[2006.15,3.8],[2006.2,3.5],[2006.12,3.0],[2006.18,2.8],[2006.2,2.2],[2006.25,1.5],[2006.02,1.8],[2006.08,2.0],[2006.15,1.2],[2006.22,1.0],[2006.05,3.6],[2005.95,2.2],
[2007.02,3.2],[2007.05,2.6],[2007.0,1.8],[2006.95,1.6],[2007.08,1.6],[2007.15,1.3],[2007.1,0.8],
[2007.85,4.0],[2007.9,3.2],[2007.95,2.7],[2007.88,2.2],[2008.0,3.0],[2007.92,1.6],[2008.02,0.8],
[2009.0,4.8],[2008.98,4.2],[2009.02,3.5],[2008.95,3.0],[2009.0,2.5],[2009.05,2.0],[2009.1,1.5],[2008.9,1.8],[2009.12,1.0],[2009.08,2.4],[2009.15,1.8],[2009.2,1.2],[2009.25,0.8],[2008.92,2.6],[2009.2,-1.2],
[2009.9,4.5],[2010.18,4.4],[2010.2,3.0],[2010.15,2.5],[2010.1,2.2],[2010.18,1.6],[2010.05,1.8],[2009.95,1.4],[2010.2,0.9],[2010.3,-4.7],[2010.0,-1.3],[2010.22,-1.6],
[2010.5,1.2],[2010.6,1.5],[2010.65,1.0],[2010.55,-1.5],[2010.7,-1.1],
[2010.95,3.6],[2010.98,2.8],[2010.92,2.4],[2010.95,2.0],[2011.0,1.6],[2010.9,1.2],[2011.02,1.0],[2010.9,-1.4],
[2011.92,-1.0],[2011.95,-1.5],[2011.98,-2.0],[2012.05,-2.6],[2012.0,-1.2],
[2012.9,-1.3],[2012.92,-2.2],[2012.93,-3.7],[2013.85,-1.2],[2014.2,1.0],
[2015.0,-1.5],[2015.02,-2.0],[2015.0,-2.6],[2015.02,-3.3],[2015.03,-4.1],[2014.98,-1.2],[2015.05,-1.0],
[2015.6,-1.0],[2016.5,0.9],[2016.4,-0.8]];

const l2ntOut = [[2003.0,4.9],[2003.05,4.7],[2003.08,4.3],[2003.06,2.7],[2003.02,1.3],[2002.85,1.3],[2003.1,1.5],[2002.95,1.8],[2003.12,1.2],[2002.9,0.9],
[2004.0,3.3],[2004.05,4.0],[2004.1,4.6],[2004.18,4.8],[2004.22,4.7],[2003.95,2.7],[2004.1,2.5],[2004.15,3.0],[2004.1,1.8],[2004.15,1.5],[2004.0,1.0],[2004.12,3.5],[2004.2,2.0],[2003.9,2.6],[2004.05,2.0],
[2004.85,4.8],[2005.05,4.8],[2004.88,4.3],[2005.08,4.2],[2004.9,2.6],[2004.95,2.3],[2005.05,2.6],[2005.1,2.2],[2005.15,3.2],[2004.95,1.4],[2005.1,1.6],[2005.2,1.2],[2005.0,1.0],
[2005.98,4.8],[2006.05,4.7],[2005.95,4.3],[2006.1,3.6],[2006.15,3.2],[2005.95,3.0],[2006.0,2.6],[2005.98,2.2],[2006.05,2.0],[2006.1,1.6],[2006.12,1.2],[2006.2,2.1],[2006.25,1.3],[2006.08,2.8],[2006.02,1.8],
[2007.0,4.0],[2007.05,3.2],[2006.95,2.0],[2007.08,2.6],[2007.15,2.6],[2007.05,1.5],[2007.15,0.7],
[2007.85,4.8],[2007.95,4.7],[2007.85,3.6],[2007.9,3.4],[2007.95,2.4],[2007.85,2.0],[2007.95,1.4],[2008.0,1.2],[2008.2,0.7],
[2009.0,4.9],[2009.0,4.0],[2009.05,3.6],[2008.95,3.6],[2009.1,3.3],[2009.02,2.6],[2008.92,2.0],[2008.95,1.6],[2009.05,2.4],[2009.1,1.2],
[2010.0,0.8],[2010.1,0.7],[2010.2,1.0],[2009.9,-1.2],[2009.95,-1.2],
[2010.95,1.5],[2010.98,2.0],[2011.0,2.4],[2010.92,1.2],[2011.05,1.0],[2011.25,2.0],[2011.3,1.5],[2011.35,1.2],[2011.4,1.0],
[2011.9,-1.2],[2012.0,-1.5],[2012.5,-4.1],
[2012.95,-0.6],[2012.95,-1.3],[2012.92,-0.9],
[2015.0,-4.0],[2015.02,-1.5],[2015.05,-1.2]];

const l3ntOut = [[2002.45,-2.5],[2002.55,-1.8],[2002.7,-2.2],[2002.85,-2.8],[2002.75,-1.5],
[2003.0,3.1],[2003.02,2.3],[2003.05,1.9],[2003.1,2.1],[2003.08,1.5],[2003.0,1.7],
[2004.15,3.6],[2004.1,2.6],[2004.05,2.2],[2004.0,1.6],[2004.2,1.9],[2003.9,-3.9],[2003.95,-3.7],[2003.98,-4.1],
[2004.98,2.4],[2005.02,1.8],[2004.95,1.5],[2005.0,-1.3],[2004.98,-2.0],[2005.02,-2.8],[2005.05,-3.6],[2005.05,-4.2],
[2006.0,3.5],[2006.05,4.0],[2006.0,2.4],[2006.1,1.8],[2006.05,-1.5],[2005.95,-2.5],[2005.98,-3.5],[2006.1,-3.8],[2006.15,-4.3],[2006.2,-4.6],[2006.15,-1.8],[2006.1,-2.3],
[2006.95,2.6],[2007.0,2.2],[2007.1,2.8],[2006.9,1.5],[2007.15,1.2],
[2007.85,-3.3],[2007.88,-2.2],[2007.92,-1.5],[2007.95,-1.0],
[2007.9,2.0],[2007.95,1.5],[2007.85,1.2],
[2008.9,4.5],[2008.95,3.8],[2009.1,4.2],[2009.05,3.5],[2009.2,4.6],[2008.98,3.0],[2009.1,2.8],[2009.2,2.5],[2009.3,2.2],[2009.05,2.0],[2009.13,-3.8],
[2009.95,4.8],[2010.0,4.4],[2010.05,4.6],[2010.1,4.1],[2010.02,3.8],[2010.08,3.5],[2010.15,3.1],[2010.05,3.0],[2010.12,2.7],[2010.2,2.5],[2010.0,2.2],[2010.1,-2.5],[2010.15,-3.0],[2010.2,-3.1],[2010.05,-2.7],
[2010.45,2.3],[2010.5,2.0],[2010.6,3.5],[2010.55,2.8],[2010.7,2.5],[2010.65,1.8],[2010.4,-3.3],[2010.5,-3.0],[2010.45,-2.5],[2010.65,-2.1],[2010.75,-2.7],
[2010.95,3.9],[2011.0,3.5],[2010.98,3.0],[2011.05,2.7],[2010.92,2.2],[2011.0,2.0],[2011.1,1.7],[2011.15,-2.0],[2011.25,-4.2],[2011.3,-4.0],[2011.35,-3.8],[2011.0,-2.4],[2011.05,-2.2],
[2011.85,3.0],[2011.9,2.5],[2011.95,2.0],[2012.0,1.6],[2012.05,2.2],[2011.7,-1.0],[2012.1,1.2],
[2012.6,1.5],[2012.4,1.0],[2012.9,-3.3],[2012.92,-2.3],[2013.0,-1.5],[2013.3,1.8],[2013.4,1.4],
[2013.85,-2.2],[2013.85,-3.3],[2014.05,-3.0],[2014.15,1.8],
[2015.0,-1.2],[2015.02,-2.0],[2015.0,-2.8],[2015.02,-3.6],[2015.0,-4.4],[2015.02,-5.2],[2014.98,-1.6],[2015.05,-2.4],
[2015.9,-1.0],[2016.3,1.2],[2016.3,-2.5],[2016.5,1.3],[2016.8,-1.6],[2016.95,-2.5]];

const l1trOut = [[2002.45,-2.4],[2002.62,-1.2],[2002.87,-1.3],[2002.99,-1.6],[2003.08,-2.4],[2003.08,-3.4],[2003.1,-2.1],
[2003.08,3.6],[2003.03,2.4],[2003.1,1.8],
[2004.0,4.5],[2004.05,4.0],[2004.08,3.6],[2004.02,3.2],[2004.1,2.6],[2004.12,2.2],[2004.05,1.5],[2004.15,1.6],[2004.1,3.8],
[2004.85,3.8],[2004.83,2.4],[2004.88,1.8],[2004.95,4.9],[2005.0,4.7],[2005.05,2.7],[2005.1,2.0],[2005.15,1.4],[2004.9,1.0],
[2005.95,3.6],[2006.0,4.6],[2006.05,4.9],[2006.1,3.8],[2006.0,2.6],[2005.98,2.0],[2006.1,2.4],[2006.15,1.4],[2006.3,2.4],[2006.35,1.6],[2006.2,1.2],[2005.95,1.6],
[2006.0,-2.6],[2006.02,-2.1],
[2006.9,1.4],[2007.0,4.0],[2007.0,3.4],[2007.02,2.8],[2007.15,2.4],
[2007.87,5.0],[2007.85,3.1],[2007.95,3.1],[2008.0,1.5],[2007.9,1.2],[2008.08,1.6],
[2007.9,-1.8],[2007.95,-2.3],
[2008.85,2.8],[2008.9,3.3],[2008.95,4.9],[2009.0,4.2],[2009.05,3.8],[2009.1,2.7],[2009.15,2.0],[2009.0,1.8],
[2010.16,4.2],[2010.16,2.6],[2010.18,2.1],[2010.97,3.2],[2011.0,2.5],[2011.03,1.6],
[2010.08,-2.1],[2010.18,-2.5],[2011.08,-1.8],
[2012.0,-1.3],[2012.0,-2.4],[2012.12,-3.2],[2012.5,2.1],[2012.9,-2.6],
[2013.83,-1.8],[2014.0,-1.0],
[2014.97,-1.1],[2015.0,-1.6],[2015.02,-2.2],[2015.05,-2.7],[2015.0,-4.2],
[2016.25,-1.2]];

const l2trOut = [[2002.46,-2.8],[2002.46,-2.0],[2002.5,0.5],
[2003.0,5.0],[2003.05,4.3],[2003.08,4.2],[2003.08,2.1],[2003.0,1.2],[2003.05,1.6],
[2003.92,4.0],[2003.98,3.9],[2004.02,4.6],[2004.08,5.0],[2004.15,4.8],[2004.05,3.4],[2004.1,3.0],[2004.05,2.6],[2004.1,2.1],[2004.15,1.6],[2004.12,1.3],[2004.0,2.4],[2003.95,1.8],
[2004.81,4.4],[2005.06,4.4],[2004.85,2.5],[2004.9,2.2],[2005.1,2.5],[2005.2,3.6],[2004.95,1.8],[2005.1,1.5],[2004.9,1.2],[2005.3,-2.0],
[2005.88,3.3],[2005.95,4.3],[2006.05,4.0],[2006.1,3.2],[2006.05,2.6],[2005.95,2.0],[2006.1,1.7],[2006.15,2.2],[2006.2,1.2],[2006.0,1.4],[2006.25,1.0],[2005.95,-1.6],
[2006.95,4.1],[2007.0,3.6],[2007.08,2.6],[2006.95,2.4],[2007.1,2.4],[2007.02,1.6],[2007.1,0.9],
[2007.82,4.6],[2007.88,4.4],[2007.95,3.8],[2007.85,1.9],[2007.9,1.2],[2008.2,0.6],[2008.54,-1.4],
[2008.88,4.4],[2008.95,4.3],[2008.85,2.4],[2008.9,2.0],[2009.02,2.9],[2009.08,2.5],[2009.0,1.3],
[2009.95,1.6],[2010.0,1.1],[2009.9,-1.0],[2010.05,-1.2],[2010.1,-1.2],
[2010.95,3.9],[2010.98,3.4],[2011.0,2.8],[2010.92,2.2],[2011.02,1.8],[2011.05,1.4],[2011.25,3.0],[2011.35,1.6],[2011.4,1.8],[2011.5,1.2],[2011.3,-1.2],[2011.45,-2.1],[2011.55,-2.1],
[2012.27,2.6],[2012.51,-5.0],[2012.9,-2.7],[2011.95,-1.5],[2012.05,-1.9],
[2015.0,-2.3],[2015.02,-1.6],[2015.1,-1.8],[2015.05,-1.2],
[2016.73,1.5],[2015.85,0.7]];

const l3trOut = [[2002.46,-4.5],[2002.61,-3.6],[2002.83,-4.3],[2002.78,-3.3],
[2002.98,5.1],[2003.05,4.6],[2003.1,4.0],[2003.14,3.5],[2003.08,2.7],
[2003.88,-4.8],
[2003.94,5.0],[2004.0,4.6],[2004.05,4.2],[2004.12,3.8],[2004.15,3.0],[2004.2,2.6],[2004.1,2.0],
[2004.78,-2.1],[2004.85,-2.8],[2004.92,-3.2],[2005.0,-3.7],[2005.1,-4.3],[2005.15,-3.0],
[2004.99,3.5],[2005.05,2.0],[2005.1,2.4],[2005.15,1.8],[2005.31,2.7],
[2005.9,4.8],[2005.95,4.5],[2006.0,3.8],[2006.05,3.2],[2006.1,2.6],[2006.2,4.0],[2006.26,2.0],
[2005.95,-2.1],[2006.0,-3.0],[2006.02,-3.8],[2006.05,-4.6],[2006.08,-5.1],[2006.1,-2.8],
[2007.06,3.9],[2007.0,-2.4],[2007.16,-3.5],
[2007.85,3.7],[2007.92,3.5],[2008.0,2.5],
[2007.88,-3.2],[2007.95,-4.2],[2008.02,-4.8],
[2008.12,3.5],[2008.08,1.6],[2008.54,1.6],
[2008.96,-4.5],
[2008.86,5.0],[2008.95,4.8],[2009.05,4.5],[2009.12,4.2],[2009.2,3.8],[2009.28,3.4],[2009.35,3.0],[2009.44,2.5],[2009.1,2.2],[2009.0,3.0],
[2009.12,-2.7],[2009.25,-3.2],[2009.4,-4.1],[2009.55,-3.6],
[2009.76,5.0],[2009.85,4.8],[2009.95,4.4],[2010.05,3.5],[2010.12,2.8],[2010.18,2.2],[2009.9,3.8],
[2010.0,-3.7],[2010.1,-4.5],[2010.2,-5.0],[2010.05,-4.0],
[2010.4,4.8],[2010.5,4.3],[2010.6,3.8],[2010.7,3.2],[2010.8,2.6],[2010.55,2.4],[2010.45,3.4],
[2010.7,-4.0],[2010.85,-4.6],[2011.0,-5.3],[2011.2,-4.8],[2010.9,-3.5],
[2010.92,5.1],[2011.03,4.6],[2011.3,5.0],
[2011.34,-4.0],[2011.5,-5.2],
[2011.93,5.1],[2011.97,4.5],[2012.0,3.8],[2012.03,2.7],[2011.85,3.0],[2012.08,2.2],
[2011.98,-3.2],[2012.24,-4.3],
[2012.83,-2.7],[2012.95,-3.5],
[2013.35,4.5],
[2013.83,-4.5],[2014.04,-3.5],[2014.52,-2.1],
[2014.94,-2.1],[2015.0,-2.8],[2015.03,-3.4],[2015.06,-4.0],[2015.1,-4.5],[2015.15,-4.9],[2015.0,-4.2],
[2015.68,-1.9],[2016.1,-1.6],[2016.26,-3.7],[2016.3,-2.4],
[2016.85,2.7],[2016.96,-1.9]];

// ---- Styling ----
const colorL1 = '#2b7fa7', colorL2 = '#4bc577', colorL3 = '#f4663f';
const panelColors = [colorL1, colorL2, colorL3, colorL1, colorL2, colorL3];
const bandsA = [l1ntBand, l2ntBand, l3ntBand, l1trBand, l2trBand, l3trBand];
const bandsB = [l1ntBandB, l2ntBandB, l3ntBandB, l1trBandB, l2trBandB, l3trBandB];
const bandsC = [[], [], l3ntBandC, [], [], l3trBandC];   // extra samples on grid A for the noisier L3 series
const outs = [l1ntOut, l2ntOut, l3ntOut, l1trOut, l2trOut, l3trOut];
const serif = '"Liberation Serif", "DejaVu Serif", serif';
const axisCol = '#3a3a3a';
const gridCol = '#ececec';

function gridX(arr, start) { return arr.map((_, k) => +(start + k * bandStep).toFixed(3)); }

const traces = [];
const layout = {
  width: 664, height: 606,
  margin: {l: 37, r: 27, t: 38, b: 40},
  paper_bgcolor: '#fff', plot_bgcolor: '#fff',
  showlegend: false,
  font: {family: serif, size: 15, color: '#222'},
  title: {text: '<b>Station WTZZ - Height Residuals [mm]</b>', font: {family: serif, size: 20, color: '#222'},
          x: 0.5, xanchor: 'center', y: 1 - 16/606, yanchor: 'middle', xref: 'container', yref: 'container'},
  annotations: []
};

for (let i = 0; i < 6; i++) {
  const n = i === 0 ? '' : String(i + 1);
  const a = bandsA[i], b = bandsB[i], c = bandsC[i];
  const x = gridX(a, bandStart).concat(gridX(b, bandStartB), gridX(c, bandStart), outs[i].map(p => p[0]));
  const y = a.concat(b, c, outs[i].map(p => p[1]));
  traces.push({
    type: 'scatter', mode: 'markers', name: seriesNames[i],
    x: x, y: y, xaxis: 'x' + n, yaxis: 'y' + n,
    marker: {symbol: 'cross-thin', size: 6, color: panelColors[i], opacity: 0.75,
             line: {color: panelColors[i], width: 1.1}},
    hoverinfo: 'skip', showlegend: false
  });
  const top = 1 - i / 6, bot = 1 - (i + 1) / 6;
  const isBottom = i === 5;
  layout['xaxis' + n] = {
    domain: [0, 1], anchor: 'y' + n, range: [2002, 2017],
    tickmode: 'array', tickvals: yearTicks, ticktext: yearTicks.map(String),
    showticklabels: isBottom, ticks: 'inside', ticklen: 4, tickcolor: axisCol, tickwidth: 1,
    showline: true, linecolor: axisCol, linewidth: 1.2, mirror: i === 0 ? false : 'ticks',
    showgrid: true, gridcolor: gridCol, gridwidth: 1, zeroline: false,
    tickfont: {family: serif, size: 15, color: '#222'}
  };
  if (isBottom) layout['xaxis' + n].title = {text: '<b>Year</b>', font: {family: serif, size: 18, color: '#222'}, standoff: 6};
  if (i > 0) layout['xaxis' + n].matches = 'x';
  layout['yaxis' + n] = {
    domain: [bot, top], anchor: 'x' + n, range: [-7, 7],
    tickmode: 'array', tickvals: yTicks, ticktext: ['\u22123', '0', '3'],
    ticks: 'inside', ticklen: 4, tickcolor: axisCol,
    showline: true, linecolor: axisCol, linewidth: 1.2, mirror: 'ticks',
    showgrid: true, gridcolor: gridCol, gridwidth: 1, zeroline: false,
    tickfont: {family: serif, size: 15, color: '#222'}
  };
  layout.annotations.push({
    xref: 'paper', yref: 'paper', x: 0.909, y: top - 19/528, xanchor: 'center', yanchor: 'middle',
    text: '<span style="color:' + panelColors[i] + ';font-size:13px">+</span>' + seriesNames[i],
    showarrow: false, font: {family: serif, size: 15, color: '#222'},
    bgcolor: '#fff', bordercolor: '#444', borderwidth: 1.2, borderpad: 2
  });
}

Plotly.newPlot('chart', traces, layout, {displayModeBar: false, staticPlot: true});
</script>
</body>
</html>
